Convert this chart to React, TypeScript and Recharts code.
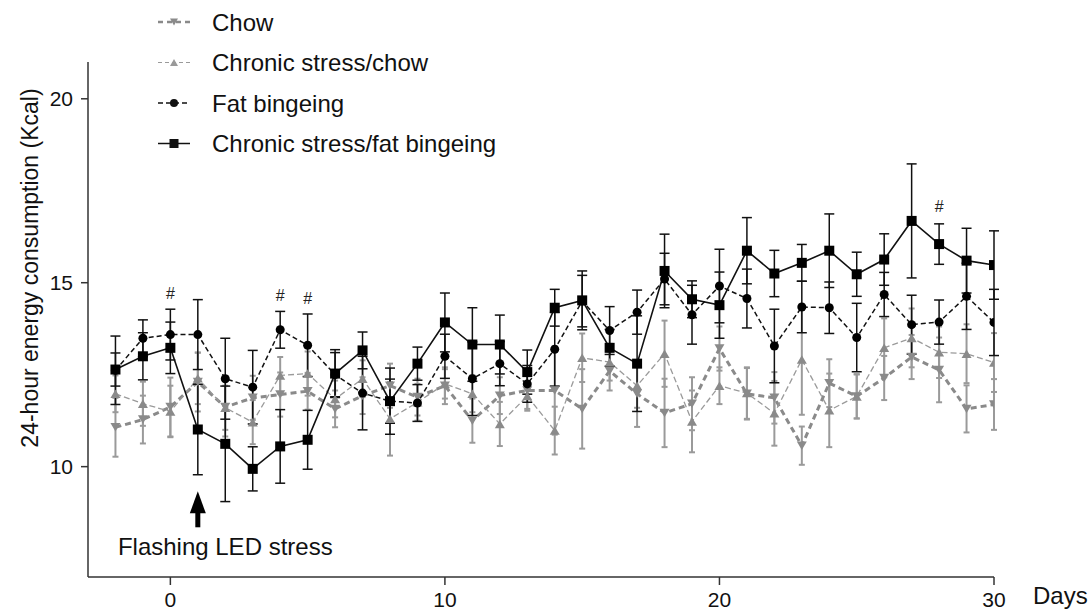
import { LineChart, Line, XAxis, YAxis, ErrorBar, Legend, ReferenceDot } from 'recharts'

const days = [-2, -1, 0, 1, 2, 3, 4, 5, 6, 7, 8, 9, 10, 11, 12, 13, 14, 15, 16, 17, 18, 19, 20, 21, 22, 23, 24, 25, 26, 27, 28, 29, 30]

const chow = [11.07, 11.28, 11.62, 12.3, 11.62, 11.87, 11.96, 12.05, 11.57, 11.93, 12.2, 11.89, 12.2, 11.25, 11.93, 12.07, 12.07, 11.57, 12.6, 11.98, 11.46, 11.71, 13.21, 11.98, 11.87, 10.57, 12.27, 11.91, 12.41, 12.98, 12.63, 11.57, 11.69]
const chowErr = [0.8, 0.65, 0.8, 0.8, 0.8, 0.6, 0.6, 0.5, 0.5, 0.5, 0.6, 0.5, 0.5, 0.6, 0.5, 0.5, 1.2, 1.08, 0.53, 0.9, 0.93, 0.72, 0.6, 0.7, 0.7, 0.52, 0.65, 0.6, 0.6, 0.6, 0.88, 0.64, 0.69]

const stressChow = [11.98, 11.71, 11.5, 12.4, 11.6, 11.21, 12.48, 12.53, 11.84, 12.39, 11.3, 11.75, 12.25, 11.98, 11.16, 11.92, 10.98, 12.96, 12.84, 12.2, 13.07, 11.23, 12.2, 12.0, 11.45, 12.91, 11.53, 11.91, 13.23, 13.5, 13.11, 13.07, 12.83]
const stressChowErr = [0.5, 0.6, 0.7, 0.7, 0.6, 0.6, 0.5, 0.6, 0.5, 0.5, 1.0, 0.5, 0.4, 0.5, 0.6, 0.4, 0.65, 0.66, 0.5, 0.6, 0.9, 0.84, 0.5, 0.7, 0.88, 1.5, 1.0, 0.6, 0.8, 0.8, 0.7, 0.8, 0.8]

const fat = [12.62, 13.49, 13.59, 13.59, 12.39, 12.16, 13.72, 13.3, 12.5, 12.0, 11.78, 11.73, 13.0, 12.39, 12.8, 12.25, 13.19, 14.5, 13.7, 14.2, 15.1, 14.13, 14.91, 14.57, 13.28, 14.34, 14.32, 13.51, 14.68, 13.86, 13.93, 14.63, 13.92]
const fatErr = [0.93, 0.5, 0.69, 0.95, 1.1, 1.0, 0.5, 0.85, 0.6, 1.0, 0.9, 0.5, 0.6, 1.0, 0.6, 0.5, 1.0, 0.7, 0.65, 0.6, 0.7, 0.8, 1.0, 0.8, 1.0, 0.7, 0.7, 0.93, 0.6, 0.8, 0.6, 0.9, 0.9]

const stressFat = [12.64, 13.0, 13.23, 11.01, 10.62, 9.94, 10.55, 10.73, 12.53, 13.16, 11.78, 12.8, 13.92, 13.32, 13.32, 12.57, 14.32, 14.52, 13.23, 12.8, 15.32, 14.55, 14.39, 15.87, 15.25, 15.54, 15.87, 15.23, 15.63, 16.68, 16.05, 15.6, 15.48]
const stressFatErr = [0.45, 0.64, 0.7, 1.23, 1.57, 0.6, 1.0, 0.8, 0.65, 0.5, 0.6, 0.45, 0.8, 1.0, 0.8, 0.6, 0.5, 0.8, 0.5, 1.3, 1.0, 0.5, 0.9, 0.9, 0.63, 0.5, 1.0, 0.6, 0.7, 1.55, 0.55, 0.88, 0.93]

const xTicks = [0, 10, 20, 30]
const yTicks = [10, 15, 20]

// significance marks (#) and the stress annotation
const hashMarks = [
  { day: 0, y: 14.71 },
  { day: 4, y: 14.66 },
  { day: 5, y: 14.58 },
  { day: 28, y: 17.08 },
]
const stressDay = 1
const stressLabel = 'Flashing LED stress'

const data = days.map((day, i) => ({
  day,
  chow: chow[i],
  chowErr: chowErr[i],
  stressChow: stressChow[i],
  stressChowErr: stressChowErr[i],
  fat: fat[i],
  fatErr: fatErr[i],
  stressFat: stressFat[i],
  stressFatErr: stressFatErr[i],
}))

const FONT = '"Liberation Sans", Arial, sans-serif'
const GRAY = '#8a8a8a'
const LIGHT = '#9a9a9a'

const triDown = (color: string, s: number) => (p: any) => {
  const { cx, cy, index } = p
  if (cx == null || cy == null) return <g key={index} />
  const h = s * 0.85
  return <polygon key={index} points={`${cx - s / 2},${cy - h / 2} ${cx + s / 2},${cy - h / 2} ${cx},${cy + h / 2}`} fill={color} />
}
const triUp = (color: string, s: number) => (p: any) => {
  const { cx, cy, index } = p
  if (cx == null || cy == null) return <g key={index} />
  const h = s * 0.85
  return <polygon key={index} points={`${cx - s / 2},${cy + h / 2} ${cx + s / 2},${cy + h / 2} ${cx},${cy - h / 2}`} fill={color} />
}
const circle = (color: string, r: number) => (p: any) => {
  const { cx, cy, index } = p
  if (cx == null || cy == null) return <g key={index} />
  return <circle key={index} cx={cx} cy={cy} r={r} fill={color} />
}
const square = (color: string, s: number) => (p: any) => {
  const { cx, cy, index } = p
  if (cx == null || cy == null) return <g key={index} />
  return <rect key={index} x={cx - s / 2} y={cy - s / 2} width={s} height={s} fill={color} />
}

const legendItems = [
  { name: 'Chow', color: GRAY, width: 2.5, dash: '5 4', marker: 'down' },
  { name: 'Chronic stress/chow', color: LIGHT, width: 1.2, dash: '4 3', marker: 'up' },
  { name: 'Fat bingeing', color: '#111', width: 1.5, dash: '5 3', marker: 'circle' },
  { name: 'Chronic stress/fat bingeing', color: '#111', width: 1.5, dash: undefined, marker: 'square' },
]

function LegendBox() {
  return (
    <svg width={420} height={165}>
      {legendItems.map((it, i) => {
        const y = 22 + i * 40.5
        const x = 24
        let mk
        if (it.marker === 'down') mk = triDown(it.color, 8)({ cx: x, cy: y, index: 0 })
        else if (it.marker === 'up') mk = triUp(it.color, 8)({ cx: x, cy: y, index: 0 })
        else if (it.marker === 'circle') mk = circle(it.color, 4)({ cx: x, cy: y, index: 0 })
        else mk = square(it.color, 9)({ cx: x, cy: y, index: 0 })
        return (
          <g key={it.name}>
            <line x1={x - 16} x2={x + 16} y1={y} y2={y} stroke={it.color} strokeWidth={it.width} strokeDasharray={it.dash} />
            {mk}
            <text x={62} y={y} dominantBaseline="central" fontSize={24} fontFamily={FONT} fill="#111">
              {it.name}
            </text>
          </g>
        )
      })}
    </svg>
  )
}

const HashShape = (p: any) => (
  <text x={p.cx} y={p.cy} textAnchor="middle" dominantBaseline="central" fontSize={16} fontFamily={FONT} fill="#222">
    #
  </text>
)

const ArrowShape = (p: any) => {
  const { cx, cy } = p
  return (
    <g>
      <path d={`M${cx},${cy} L${cx - 8},${cy + 22} L${cx + 8},${cy + 22} Z`} fill="#000" />
      <rect x={cx - 2.5} y={cy + 20} width={5} height={16} fill="#000" />
    </g>
  )
}

const StressText = (p: any) => (
  <text x={p.cx} y={p.cy} textAnchor="middle" dominantBaseline="central" fontSize={24} fontFamily={FONT} fill="#111">
    {stressLabel}
  </text>
)

const YLabel = () => (
  <text x={30} y={268} transform="rotate(-90 30 268)" textAnchor="middle" dominantBaseline="central" fontSize={23} fontFamily={FONT} fill="#111">
    24-hour energy consumption (Kcal)
  </text>
)

export default function App() {
  return (
    <div style={{ position: 'absolute', left: 0, top: 0, background: '#fff' }}>
      <LineChart width={1091} height={614} data={data} margin={{ top: 62, right: 97, bottom: 0, left: 0 }}>
        <XAxis
          dataKey="day"
          type="number"
          domain={[-3, 30]}
          ticks={xTicks}
          allowDataOverflow
          height={37}
          stroke="#333"
          strokeWidth={1.5}
          tickSize={8}
          tickMargin={7}
          tick={{ fill: '#111', fontSize: 21, fontFamily: FONT }}
          label={{ value: 'Days', position: 'right', offset: 39, fill: '#111', fontSize: 24, fontFamily: FONT }}
        />
        <YAxis
          type="number"
          domain={[7, 21]}
          ticks={yTicks}
          allowDataOverflow
          width={88}
          stroke="#333"
          strokeWidth={1.5}
          tickSize={7}
          tickMargin={8}
          tick={{ fill: '#111', fontSize: 21, fontFamily: FONT }}
          label={<YLabel />}
        />
        <Legend layout="vertical" align="center" verticalAlign="middle" wrapperStyle={{ top: 0, left: 150, width: 420 }} content={<LegendBox />} />
        <Line dataKey="chow" stroke={GRAY} strokeWidth={3} strokeDasharray="6 4" dot={triDown(GRAY, 10)} activeDot={false} isAnimationActive={false}>
          <ErrorBar dataKey="chowErr" direction="y" width={3} stroke={LIGHT} strokeWidth={2} />
        </Line>
        <Line dataKey="stressChow" stroke={LIGHT} strokeWidth={1.3} strokeDasharray="6 3" dot={triUp(GRAY, 10)} activeDot={false} isAnimationActive={false}>
          <ErrorBar dataKey="stressChowErr" direction="y" width={3} stroke={LIGHT} strokeWidth={2} />
        </Line>
        <Line dataKey="fat" stroke="#111" strokeWidth={1.5} strokeDasharray="5 3" dot={circle('#000', 4.5)} activeDot={false} isAnimationActive={false}>
          <ErrorBar dataKey="fatErr" direction="y" width={5} stroke="#111" strokeWidth={1.5} />
        </Line>
        <Line dataKey="stressFat" stroke="#111" strokeWidth={1.6} dot={square('#000', 10)} activeDot={false} isAnimationActive={false}>
          <ErrorBar dataKey="stressFatErr" direction="y" width={5} stroke="#111" strokeWidth={1.5} />
        </Line>
        {hashMarks.map((h) => (
          <ReferenceDot key={h.day} x={h.day} y={h.y} r={0} shape={HashShape} />
        ))}
        <ReferenceDot x={stressDay} y={9.33} r={0} shape={ArrowShape} />
        <ReferenceDot x={2} y={7.82} r={0} shape={StressText} />
      </LineChart>
    </div>
  )
}
